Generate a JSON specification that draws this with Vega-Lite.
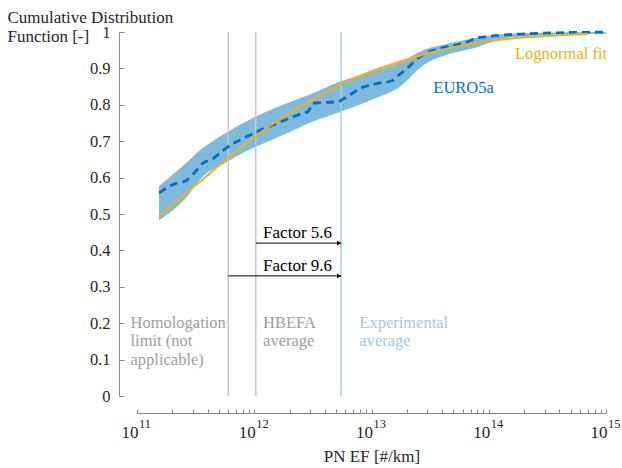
{
  "$schema": "https://vega.github.io/schema/vega-lite/v6.json",
  "width": 469,
  "height": 364,
  "autosize": "none",
  "padding": {"left": 137, "top": 32, "right": 16, "bottom": 72},
  "background": "white",
  "config": {
    "view": {"stroke": null},
    "font": "Liberation Serif",
    "axis": {"grid": false, "labelFont": "Liberation Serif", "titleFont": "Liberation Serif", "domainColor": "#8a8a8a", "tickColor": "#8a8a8a", "labelColor": "#262626", "titleColor": "#262626", "titleFontWeight": "normal"}
  },
  "datasets": {
    "band": [
      {"x": 1.540e11, "y": 0.482, "y2": 0.577},
      {"x": 2.670e11, "y": 0.548, "y2": 0.642},
      {"x": 3.446e11, "y": 0.595, "y2": 0.675},
      {"x": 5.973e11, "y": 0.645, "y2": 0.726},
      {"x": 1.056e12, "y": 0.686, "y2": 0.769},
      {"x": 1.902e12, "y": 0.722, "y2": 0.804},
      {"x": 3.171e12, "y": 0.754, "y2": 0.832},
      {"x": 5.386e12, "y": 0.780, "y2": 0.864},
      {"x": 9.710e12, "y": 0.812, "y2": 0.889},
      {"x": 1.750e13, "y": 0.850, "y2": 0.916},
      {"x": 2.749e13, "y": 0.908, "y2": 0.950},
      {"x": 4.673e13, "y": 0.940, "y2": 0.969},
      {"x": 7.940e13, "y": 0.958, "y2": 0.985},
      {"x": 1.247e14, "y": 0.980, "y2": 0.993},
      {"x": 2.120e14, "y": 0.989, "y2": 0.997},
      {"x": 1.0e15, "y": 0.995, "y2": 1.0}
    ],
    "emp": [
      {"x": 1.540e11, "y": 0.558},
      {"x": 2.110e11, "y": 0.583},
      {"x": 2.567e11, "y": 0.590},
      {"x": 3.124e11, "y": 0.615},
      {"x": 3.656e11, "y": 0.640},
      {"x": 4.362e11, "y": 0.650},
      {"x": 5.308e11, "y": 0.672},
      {"x": 6.459e11, "y": 0.692},
      {"x": 8.339e11, "y": 0.710},
      {"x": 1.056e12, "y": 0.726},
      {"x": 1.563e12, "y": 0.749},
      {"x": 2.605e12, "y": 0.777},
      {"x": 2.872e12, "y": 0.781},
      {"x": 3.171e12, "y": 0.804},
      {"x": 5.180e12, "y": 0.809},
      {"x": 6.180e12, "y": 0.822},
      {"x": 7.979e12, "y": 0.845},
      {"x": 1.182e13, "y": 0.860},
      {"x": 1.495e13, "y": 0.866},
      {"x": 1.683e13, "y": 0.880},
      {"x": 2.009e13, "y": 0.900},
      {"x": 2.493e13, "y": 0.928},
      {"x": 3.155e13, "y": 0.946},
      {"x": 4.072e13, "y": 0.957},
      {"x": 6.031e13, "y": 0.969},
      {"x": 8.422e13, "y": 0.985},
      {"x": 2.120e14, "y": 0.995},
      {"x": 1.0e15, "y": 1.0}
    ],
    "fit": [
      {"x": 1.540e11, "y": 0.494},
      {"x": 2.670e11, "y": 0.560},
      {"x": 3.954e11, "y": 0.605},
      {"x": 5.973e11, "y": 0.655},
      {"x": 1.056e12, "y": 0.717},
      {"x": 1.759e12, "y": 0.767},
      {"x": 3.171e12, "y": 0.815},
      {"x": 5.386e12, "y": 0.855},
      {"x": 9.710e12, "y": 0.890},
      {"x": 1.750e13, "y": 0.918},
      {"x": 2.749e13, "y": 0.938},
      {"x": 4.673e13, "y": 0.956},
      {"x": 7.940e13, "y": 0.970},
      {"x": 1.247e14, "y": 0.979},
      {"x": 2.120e14, "y": 0.986},
      {"x": 4.052e14, "y": 0.991},
      {"x": 7.025e14, "y": 0.995}
    ],
    "vlines": [
      {"x": 6.0e11, "y": 0, "y2": 1, "kind": "Homologation limit"},
      {"x": 1.03e12, "y": 0, "y2": 1, "kind": "HBEFA average"},
      {"x": 5.5e12, "y": 0, "y2": 1, "kind": "Experimental average"}
    ],
    "arrows": [
      {"x": 1.03e12, "xe": 5.5e12, "y": 0.42},
      {"x": 6.0e11, "xe": 5.5e12, "y": 0.33}
    ],
    "heads": [
      {"x": 5.5e12, "y": 0.42},
      {"x": 5.5e12, "y": 0.33}
    ],
    "flabels": [
      {"x": 1.19e12, "y": 0.42, "label": "Factor 5.6"},
      {"x": 1.19e12, "y": 0.33, "label": "Factor 9.6"}
    ],
    "notes": [
      {"x": 8.8e10, "y": 0.187, "text": "Homologation\nlimit (not\napplicable)", "kind": "Homologation limit"},
      {"x": 1.19e12, "y": 0.187, "text": "HBEFA\naverage", "kind": "HBEFA average"},
      {"x": 7.87e12, "y": 0.187, "text": "Experimental\naverage", "kind": "Experimental average"},
      {"x": 3.37e13, "y": 0.832, "text": "EURO5a", "kind": "EURO5a"},
      {"x": 1.675e14, "y": 0.926, "text": "Lognormal fit", "kind": "Lognormal fit"}
    ]
  },
  "resolve": {"axis": {"x": "independent"}},
  "layer": [
    {
      "resolve": {"scale": {"color": "independent"}},
      "encoding": {
        "x": {
          "field": "x", "type": "quantitative",
          "scale": {"type": "log", "domain": [1e11, 1e15], "nice": false},
          "axis": {
            "orient": "bottom",
            "offset": 17,
            "values": [1e11, 2e11, 3e11, 4e11, 5e11, 6e11, 7e11, 8e11, 9e11, 1e12, 2e12, 3e12, 4e12, 5e12, 6e12, 7e12, 8e12, 9e12, 1e13, 2e13, 3e13, 4e13, 5e13, 6e13, 7e13, 8e13, 9e13, 1e14, 2e14, 3e14, 4e14, 5e14, 6e14, 7e14, 8e14, 9e14, 1e15],
            "labelExpr": "abs(log(datum.value)/LN10 - round(log(datum.value)/LN10)) < 0.001 ? '10' : ''",
            "labelAlign": "right",
            "labelOffset": 1,
            "labelFontSize": 17,
            "labelPadding": 15.5,
            "labelOverlap": false,
            "labelFlush": false,
            "labelBound": false,
            "tickSize": -4,
            "title": "PN EF [#/km]",
            "titleFontSize": 17,
            "titleBaseline": "alphabetic",
            "titleX": 234.5,
            "titleY": 48
          }
        },
        "y": {
          "field": "y", "type": "quantitative",
          "scale": {"domain": [0, 1], "nice": false},
          "axis": {
            "orient": "left",
            "offset": 18,
            "values": [0, 0.1, 0.2, 0.3, 0.4, 0.5, 0.6, 0.7, 0.8, 0.9, 1],
            "format": "~g",
            "tickSize": -5,
            "labelPadding": 14,
            "labelFontSize": 16.5,
            "labelFlush": false,
            "labelOverlap": false,
            "title": ["Cumulative Distribution", "Function [-]"],
            "titleAngle": 0,
            "titleAlign": "left",
            "titleBaseline": "alphabetic",
            "titleX": -112,
            "titleY": -10,
            "titleFontSize": 17,
            "titleLineHeight": 19
          }
        }
      },
      "layer": [
        {
          "data": {"name": "band"},
          "mark": {"type": "area", "color": "#7fb9de", "opacity": 1, "interpolate": "monotone"},
          "encoding": {"y2": {"field": "y2"}}
        },
        {
          "data": {"name": "vlines"},
          "mark": {"type": "rule", "strokeWidth": 1.5},
          "encoding": {
            "y2": {"field": "y2"},
            "color": {
              "field": "kind", "type": "nominal", "legend": null,
              "scale": {"domain": ["Homologation limit", "HBEFA average", "Experimental average"], "range": ["#c8c8c8", "#c8c8c8", "#a8cdea"]}
            }
          }
        },
        {
          "data": {"name": "emp"},
          "mark": {"type": "line", "color": "#0072BD", "strokeWidth": 2.8, "strokeDash": [8, 5], "interpolate": "monotone"},
          "encoding": {}
        },
        {
          "data": {"name": "fit"},
          "mark": {"type": "line", "color": "#EDB120", "strokeWidth": 2.2, "interpolate": "monotone"},
          "encoding": {}
        },
        {
          "data": {"name": "arrows"},
          "mark": {"type": "rule", "color": "#000000", "strokeWidth": 1},
          "encoding": {"x2": {"field": "xe"}}
        },
        {
          "data": {"name": "heads"},
          "mark": {"type": "point", "shape": "triangle-right", "filled": true, "color": "#000000", "size": 22, "opacity": 1, "xOffset": -2},
          "encoding": {}
        },
        {
          "data": {"name": "flabels"},
          "mark": {"type": "text", "align": "left", "baseline": "alphabetic", "dy": -5, "fontSize": 17, "color": "#000000"},
          "encoding": {"text": {"field": "label"}}
        },
        {
          "data": {"name": "notes"},
          "mark": {"type": "text", "align": "left", "baseline": "alphabetic", "fontSize": 16.5, "lineBreak": "\n", "lineHeight": 18.5},
          "encoding": {
            "text": {"field": "text"},
            "color": {
              "field": "kind", "type": "nominal", "legend": null,
              "scale": {"domain": ["Homologation limit", "HBEFA average", "Experimental average", "EURO5a", "Lognormal fit"], "range": ["#9e9e9e", "#9e9e9e", "#a3c9e8", "#0072BD", "#EDB120"]}
            }
          }
        }
      ]
    },
    {
      "data": {"name": "fit"},
      "mark": {"type": "point", "opacity": 0},
      "encoding": {
        "x": {
          "field": "x", "type": "quantitative",
          "scale": {"type": "log"},
          "axis": {
            "orient": "bottom",
            "offset": 17,
            "values": [1e11, 1e12, 1e13, 1e14, 1e15],
            "labelExpr": "format(round(log(datum.value)/LN10), 'd')",
            "labelAlign": "left",
            "labelOffset": 1.5,
            "labelFontSize": 12.5,
            "labelPadding": 4,
            "labelOverlap": false,
            "labelFlush": false,
            "labelBound": false,
            "ticks": false,
            "domain": false,
            "title": null
          }
        }
      }
    }
  ]
}
